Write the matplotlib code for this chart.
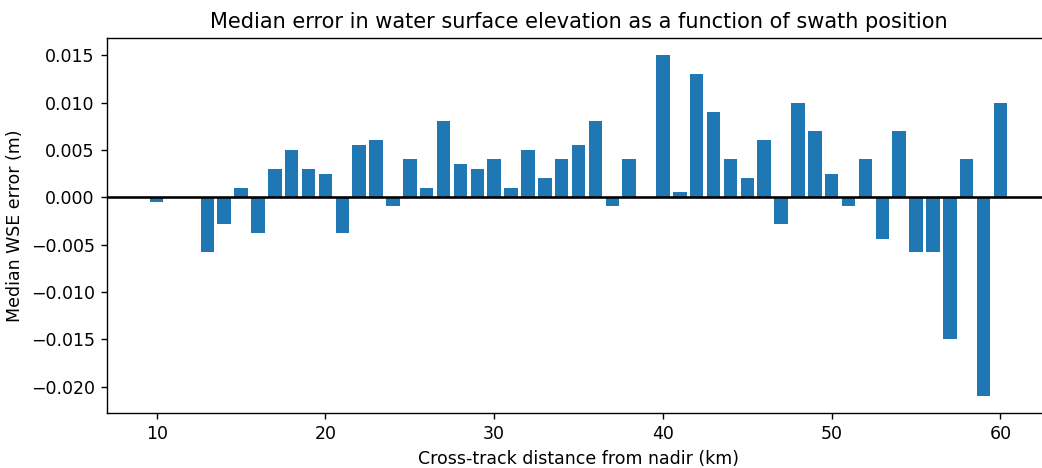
import matplotlib
matplotlib.use("Agg")
import matplotlib.pyplot as plt

# Cross-track distance bins (km) and median WSE error (m) for each bin
distance_km = [10, 13, 14, 15, 16, 17, 18, 19, 20, 21, 22, 23, 24, 25, 26, 27,
               28, 29, 30, 31, 32, 33, 34, 35, 36, 37, 38, 40, 41, 42, 43, 44,
               45, 46, 47, 48, 49, 50, 51, 52, 53, 54, 55, 56, 57, 58, 59, 60]
median_error_m = [-0.0005, -0.0058, -0.0028, 0.001, -0.0038, 0.003, 0.005, 0.003,
                  0.0025, -0.0038, 0.0055, 0.006, -0.0009, 0.004, 0.001, 0.008,
                  0.0035, 0.003, 0.004, 0.001, 0.005, 0.002, 0.004, 0.0055,
                  0.008, -0.0009, 0.004, 0.015, 0.0005, 0.013, 0.009, 0.004,
                  0.002, 0.006, -0.0028, 0.010, 0.007, 0.0025, -0.0009, 0.004,
                  -0.0044, 0.007, -0.0058, -0.0058, -0.015, 0.004, -0.021, 0.010]

DPI = 125
fig = plt.figure(figsize=(1042 / DPI, 468 / DPI), dpi=DPI)
ax = fig.add_axes([0.1027, 0.1175, 0.905, 0.801])

ax.bar(distance_km, median_error_m, color="#1f77b4")
ax.axhline(0, color="black", linewidth=1.5)

ax.set_title("Median error in water surface elevation as a function of swath position")
ax.set_xlabel("Cross-track distance from nadir (km)")
ax.set_ylabel("Median WSE error (m)")

fig.savefig("out.png", dpi=DPI)
